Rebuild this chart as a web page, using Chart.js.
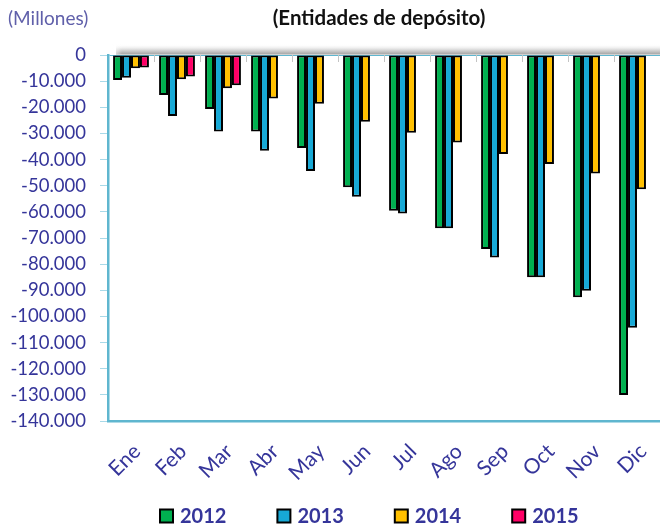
<!DOCTYPE html>
<html><head><meta charset="utf-8">
<script src="https://cdn.jsdelivr.net/npm/chart.js@4.4.1/dist/chart.umd.min.js"></script>
<style>html,body{margin:0;padding:0;background:#fff;}#wrap{width:660px;height:526px;position:relative;}</style>
</head><body><div id="wrap"><canvas id="c" width="660" height="526"></canvas></div>
<script>
const categories = ['Ene','Feb','Mar','Abr','May','Jun','Jul','Ago','Sep','Oct','Nov','Dic'];
const seriesNames = ['2012','2013','2014','2015'];
const values2012 = [-9600,-15300,-20700,-29300,-35600,-50600,-59600,-66300,-74200,-85000,-92700,-130100];
const values2013 = [-8700,-23300,-29300,-36600,-44400,-54200,-60600,-66300,-77500,-85000,-90200,-104300];
const values2014 = [-5100,-9300,-12700,-16600,-18600,-25500,-29700,-33500,-37900,-41700,-45300,-51400];
const values2015 = [-4800,-8200,-11600,null,null,null,null,null,null,null,null,null];
const yTicks = [0,-10000,-20000,-30000,-40000,-50000,-60000,-70000,-80000,-90000,-100000,-110000,-120000,-130000,-140000];
const titleText = '(Entidades de depósito)';
const unitText = '(Millones)';

const INDIGO = '#35359a';
const AXIS = '#5fb6cf';

function fmt(v){
  const s = String(Math.abs(v)).replace(/\B(?=(\d{3})+(?!\d))/g,'.');
  return (v<0?'-':'') + s;
}

const decor = {
  id:'decor',
  beforeDatasetsDraw(chart){
    const {ctx, chartArea:a} = chart;
    ctx.save();
    const g = ctx.createLinearGradient(0, a.top-11, 0, a.top);
    g.addColorStop(0,'rgba(255,255,255,0)');
    g.addColorStop(0.45,'#e4e4e4');
    g.addColorStop(1,'#9c9c9c');
    ctx.fillStyle = g;
    ctx.fillRect(a.left+8, a.top-11, a.right-a.left-8, 10.5);
    const g2 = ctx.createLinearGradient(a.left+2, 0, a.left+14, 0);
    g2.addColorStop(0,'rgba(255,255,255,1)');
    g2.addColorStop(1,'rgba(255,255,255,0)');
    ctx.fillStyle = g2;
    ctx.fillRect(a.left+2, a.top-11, 12, 10.5);
    const xs = chart.scales.x;
    ctx.strokeStyle = '#c4c4c4';
    ctx.lineWidth = 1;
    for(let i=1;i<categories.length;i++){
      const px = Math.round((xs.getPixelForValue(i-1)+xs.getPixelForValue(i))/2)+0.5;
      ctx.beginPath(); ctx.moveTo(px, a.top); ctx.lineTo(px, a.top+7); ctx.stroke();
    }
    ctx.restore();
  },
  afterDraw(chart){
    const {ctx, chartArea:a} = chart;
    const xs = chart.scales.x;
    ctx.save();
    ctx.fillStyle = INDIGO;
    ctx.font = '21px Lato';
    ctx.textAlign = 'right';
    ctx.textBaseline = 'middle';
    chart.data.labels.forEach((lab,i)=>{
      const px = xs.getPixelForValue(i);
      ctx.save();
      ctx.translate(px + 6, a.bottom + 27);
      ctx.rotate(-Math.PI/4);
      ctx.fillText(lab, 0, 0);
      ctx.restore();
    });
    ctx.textBaseline = 'middle';
    ctx.fillStyle = '#6060aa';
    ctx.font = '19px Lato';
    ctx.textAlign = 'left';
    ctx.fillText(unitText, 8, 19);
    ctx.fillStyle = '#111';
    ctx.font = 'bold 20.5px Lato';
    ctx.textAlign = 'center';
    ctx.fillText(titleText, 379, 18);
    ctx.font = 'bold 20px Lato';
    ctx.textAlign = 'left';
    let x = 160; const y = 516;
    chart.data.datasets.forEach(ds=>{
      ctx.fillStyle = ds.backgroundColor;
      ctx.fillRect(x, y-6.5, 13, 13);
      ctx.strokeStyle = '#000'; ctx.lineWidth = 2;
      ctx.strokeRect(x, y-6.5, 13, 13);
      ctx.fillStyle = INDIGO;
      ctx.fillText(ds.label, x+20, y+1);
      x += 20 + ctx.measureText(ds.label).width + 51;
    });
    ctx.restore();
  }
};

function draw(){
  const colors = ['#00b050','#17a9d6','#ffc000','#ff0066'];
  const series = [values2012, values2013, values2014, values2015];
  new Chart(document.getElementById('c'), {
    type:'bar',
    data:{
      labels: categories,
      datasets: series.map((v,i)=>({
        label: seriesNames[i], data: v, backgroundColor: colors[i],
        borderColor:'#000', borderWidth:2, borderSkipped:false,
        barPercentage:1.0, categoryPercentage:0.78
      }))
    },
    options:{
      responsive:false, animation:false, devicePixelRatio:1,
      layout:{padding:{left:8, right:0, top:55, bottom:36}},
      plugins:{legend:{display:false}, title:{display:false}, tooltip:{enabled:false}},
      scales:{
        x:{
          grid:{display:false, drawTicks:false},
          border:{display:true, color:AXIS, width:2.5},
          ticks:{display:false},
          afterFit(s){ s.height = 69; }
        },
        y:{
          min:-140000, max:0,
          afterBuildTicks(s){ s.ticks = yTicks.map(v=>({value:v})); },
          grid:{drawOnChartArea:true, color:(c)=> c.tick && c.tick.value===0 ? AXIS : 'rgba(0,0,0,0)', lineWidth:1, tickLength:8, tickColor:'#a9d9e8'},
          border:{display:true, color:AXIS, width:2.5},
          ticks:{color:INDIGO, font:{family:'Lato', size:18.5}, padding:14, callback:(v)=>fmt(v)},
          afterFit(s){ s.width = 100; }
        }
      }
    },
    plugins:[decor]
  });
}
const fl = document.fonts ? Promise.all([document.fonts.load('21px Lato'), document.fonts.load('bold 20px Lato')]) : Promise.resolve();
fl.then(draw, draw);
</script></body></html>
